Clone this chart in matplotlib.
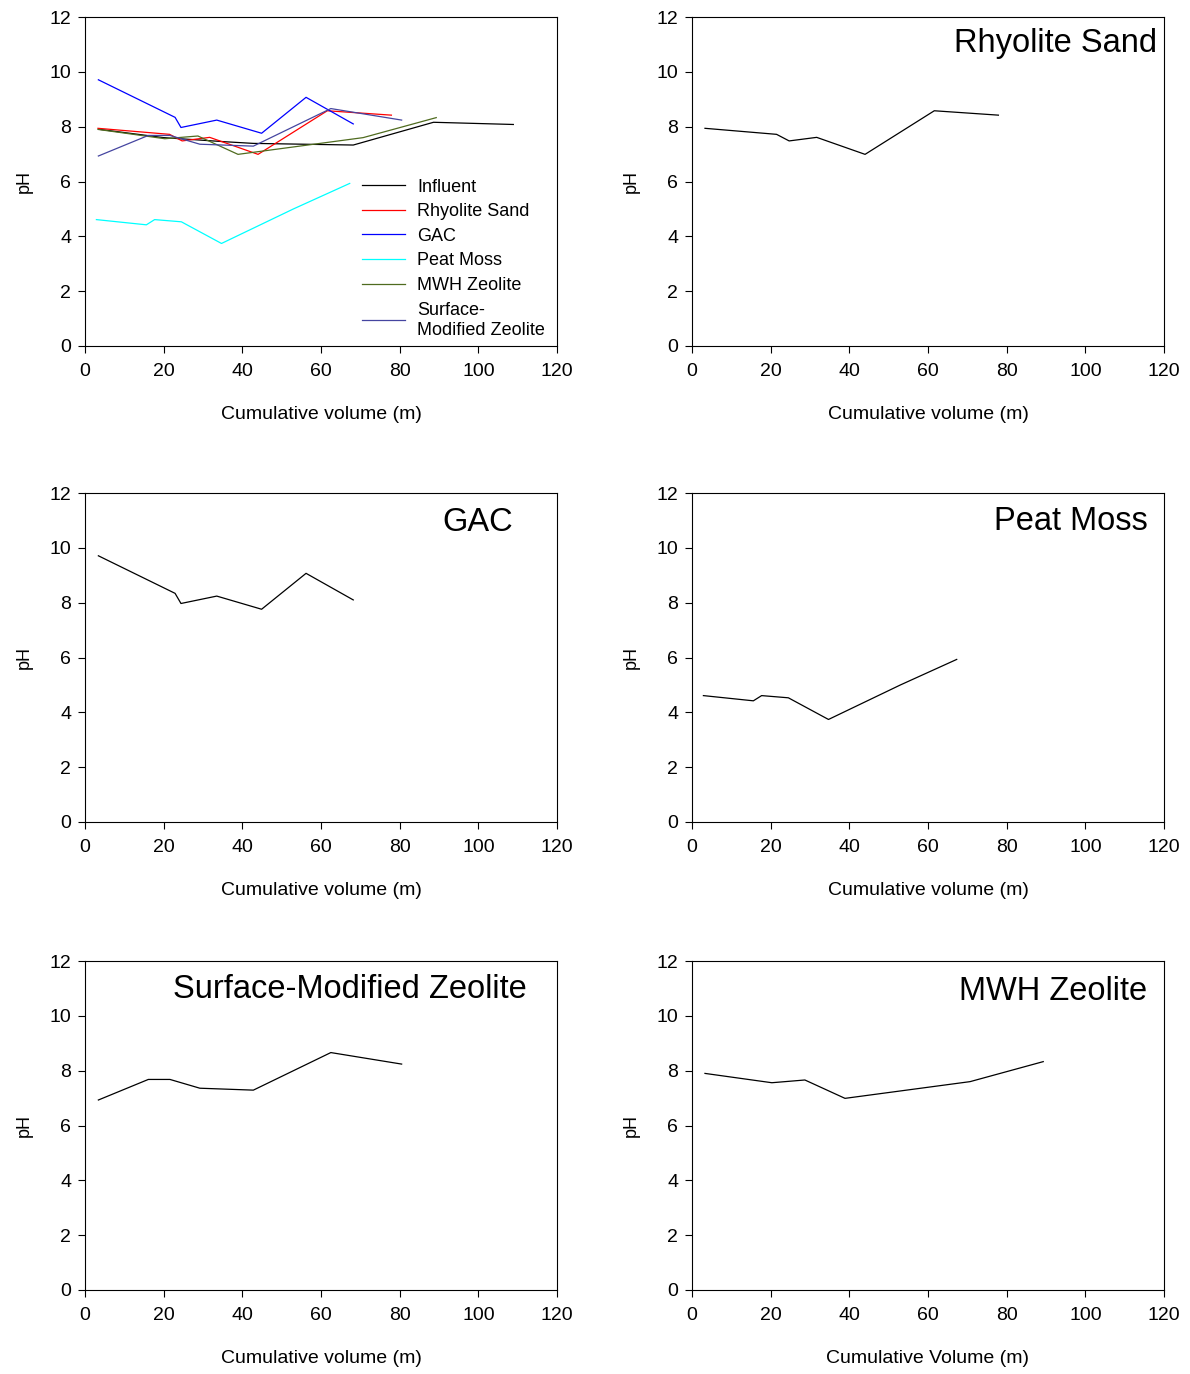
import matplotlib
matplotlib.use("Agg")
import matplotlib.pyplot as plt

plt.rcParams['font.family'] = ['Liberation Sans', 'DejaVu Sans']

# ---- data ----
influent_x = [3.8, 20, 35.6, 42.8, 68.2, 88.6, 108.9]
influent_y = [7.90, 7.60, 7.45, 7.39, 7.33, 8.16, 8.08]

rhyolite_x = [3.3, 21.5, 24.7, 31.7, 44.0, 61.6, 77.9]
rhyolite_y = [7.94, 7.72, 7.48, 7.61, 6.99, 8.58, 8.42]

gac_x = [3.4, 22.9, 24.4, 33.5, 44.9, 56.2, 68.2]
gac_y = [9.71, 8.34, 7.97, 8.24, 7.76, 9.07, 8.10]

peat_x = [2.9, 15.6, 17.7, 24.5, 34.7, 53.0, 67.3]
peat_y = [4.61, 4.42, 4.61, 4.53, 3.74, 5.00, 5.93]

smz_x = [3.4, 16.1, 21.6, 29.2, 42.8, 62.5, 80.5]
smz_y = [6.93, 7.68, 7.68, 7.36, 7.29, 8.66, 8.24]

mwh_x = [3.3, 20.3, 28.7, 38.9, 70.7, 89.3]
mwh_y = [7.90, 7.56, 7.66, 6.99, 7.60, 8.33]

x_ticks = [0, 20, 40, 60, 80, 100, 120]
y_ticks = [0, 2, 4, 6, 8, 10, 12]

series_names = ["Influent", "Rhyolite Sand", "GAC", "Peat Moss", "MWH Zeolite",
                "Surface-\nModified Zeolite"]
series_colors = ["#000000", "#ff0000", "#0000ff", "#00ffff", "#4f6b1f", "#4545a0"]

fig = plt.figure(figsize=(11.9, 13.74), dpi=100)

W = 1190.0
H = 1374.0
col_left = [85, 692]
ax_w = 472
row_top = [17, 493, 961]
ax_h = 329


def make_ax(col, row, xlabel="Cumulative volume (m)"):
    l = col_left[col] / W
    b = 1 - (row_top[row] + ax_h) / H
    ax = fig.add_axes([l, b, ax_w / W, ax_h / H])
    ax.set_xlim(0, 120)
    ax.set_ylim(0, 12)
    ax.set_xticks(x_ticks)
    ax.set_yticks(y_ticks)
    ax.tick_params(direction='out', length=5, width=0.8, labelsize=14)
    ax.tick_params(axis='x', pad=7)
    ax.tick_params(axis='y', pad=5)
    for s in ax.spines.values():
        s.set_linewidth(0.8)
    ax.set_xlabel(xlabel, fontsize=14, labelpad=19)
    ax.set_ylabel("pH", fontsize=13, labelpad=12)
    return ax


lw = 0.9

# Top-left: all series
ax0 = make_ax(0, 0)
all_series = [(influent_x, influent_y), (rhyolite_x, rhyolite_y), (gac_x, gac_y),
              (peat_x, peat_y), (mwh_x, mwh_y), (smz_x, smz_y)]
for (xs, ys), name, c in zip(all_series, series_names, series_colors):
    ax0.plot(xs, ys, color=c, lw=lw, label=name)
leg = ax0.legend(loc='lower right', bbox_to_anchor=(0.99, 0.0), frameon=False,
                 fontsize=13, handlelength=2.4, handletextpad=0.65,
                 labelspacing=0.42, borderaxespad=0.0)
for t in leg.get_texts():
    t.set_linespacing(1.25)

# Top-right: Rhyolite Sand
ax1 = make_ax(1, 0)
ax1.plot(rhyolite_x, rhyolite_y, color='black', lw=lw)
ax1.text(0.985, 0.918, "Rhyolite Sand", transform=ax1.transAxes, ha='right',
         va='center', fontsize=23.5)

# Middle-left: GAC
ax2 = make_ax(0, 1)
ax2.plot(gac_x, gac_y, color='black', lw=lw)
ax2.text(0.907, 0.909, "GAC", transform=ax2.transAxes, ha='right',
         va='center', fontsize=23.5)

# Middle-right: Peat Moss
ax3 = make_ax(1, 1)
ax3.plot(peat_x, peat_y, color='black', lw=lw)
ax3.text(0.966, 0.912, "Peat Moss", transform=ax3.transAxes, ha='right',
         va='center', fontsize=23.5)

# Bottom-left: Surface-Modified Zeolite
ax4 = make_ax(0, 2)
ax4.plot(smz_x, smz_y, color='black', lw=lw)
ax4.text(0.936, 0.912, "Surface-Modified Zeolite", transform=ax4.transAxes,
         ha='right', va='center', fontsize=23.5)

# Bottom-right: MWH Zeolite
ax5 = make_ax(1, 2, xlabel="Cumulative Volume (m)")
ax5.plot(mwh_x, mwh_y, color='black', lw=lw)
ax5.text(0.964, 0.906, "MWH Zeolite", transform=ax5.transAxes, ha='right',
         va='center', fontsize=23.5)

fig.savefig("out.png", dpi=100)
